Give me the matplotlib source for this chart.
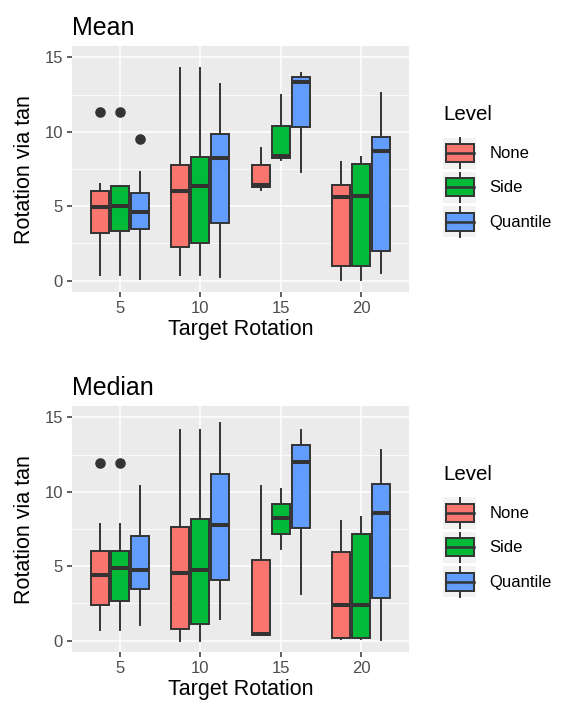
import matplotlib
matplotlib.use('Agg')
import matplotlib.pyplot as plt
from matplotlib.patches import Rectangle
from matplotlib.lines import Line2D
from matplotlib.legend_handler import HandlerBase

plt.rcParams['font.family'] = ['Liberation Sans', 'DejaVu Sans']

# data: (lower whisker, q1, median, q3, upper whisker) per target rotation
targets = [5, 10, 15, 20]
levels = ['None', 'Side', 'Quantile']
colors = ['#F8766D', '#00BA38', '#619CFF']

mean_none = [(0.36, 3.22, 4.93, 6.04, 6.47), (0.41, 2.29, 6.02, 7.75, 14.26),
             (6.07, 6.27, 6.43, 7.75, 8.93), (0.05, 0.99, 5.64, 6.40, 7.95)]
mean_side = [(0.36, 3.36, 5.04, 6.38, 6.38), (0.41, 2.53, 6.36, 8.29, 14.26),
             (8.10, 8.22, 8.37, 10.39, 12.45), (0.05, 0.99, 5.66, 7.82, 8.29)]
mean_quant = [(0.14, 3.47, 4.63, 5.87, 7.32), (0.27, 3.90, 8.22, 9.87, 13.23),
              (7.28, 10.30, 13.32, 13.68, 13.93), (0.52, 1.97, 8.73, 9.63, 12.58)]
mean_out_none = [[11.33], [], [], []]
mean_out_side = [[11.33], [], [], []]
mean_out_quant = [[9.52], [], [], []]

median_none = [(0.72, 2.40, 4.43, 6.04, 7.82), (0.0, 0.76, 4.52, 7.66, 14.13),
               (0.38, 0.38, 0.42, 5.40, 10.41), (0.13, 0.20, 2.42, 5.98, 8.02)]
median_side = [(0.72, 2.64, 4.86, 6.04, 7.82), (0.0, 1.14, 4.75, 8.17, 14.13),
               (6.18, 7.14, 8.22, 9.18, 10.21), (0.13, 0.20, 2.42, 7.19, 8.33)]
median_quant = [(1.03, 3.45, 4.75, 7.05, 10.41), (1.46, 4.10, 7.79, 11.21, 14.60),
                (3.11, 7.59, 12.02, 13.12, 14.17), (0.05, 2.85, 8.56, 10.50, 12.81)]
median_out_none = [[11.91], [], [], []]
median_out_side = [[11.91], [], [], []]
median_out_quant = [[], [], [], []]

W, H = 562, 709
fig = plt.figure(figsize=(W / 100, H / 100), dpi=100)


class BoxKey(HandlerBase):
    # ggplot-style boxplot legend key
    def create_artists(self, legend, orig, xd, yd, width, height, fontsize, trans):
        x0, y0 = -xd, -yd
        bg = Rectangle((x0, y0), width, height, facecolor='#F2F2F2',
                       edgecolor='none', transform=trans)
        cx, cy = x0 + width / 2, y0 + height / 2
        bw, bh = width * 0.85, height * 0.58
        wl = Line2D([cx, cx], [y0 + 0.5, y0 + height - 0.5], color='#333333',
                    lw=1.4, transform=trans)
        box = Rectangle((cx - bw / 2, cy - bh / 2), bw, bh,
                        facecolor=orig.get_facecolor(), edgecolor='#333333',
                        lw=1.4, transform=trans)
        med = Line2D([cx - bw / 2, cx + bw / 2], [cy, cy], color='#333333',
                     lw=1.8, transform=trans)
        return [bg, wl, box, med]


def panel(top, title, groups, outs):
    ax = fig.add_axes([71.7 / W, (H - top - 246.3) / H, 337.6 / W, 246.3 / H])
    ax.set_facecolor('#EBEBEB')
    offs = [-0.25, 0, 0.25]
    for k in range(3):
        stats = []
        for j in range(len(targets)):
            lo, q1, med, q3, hi = groups[k][j]
            stats.append(dict(whislo=lo, q1=q1, med=med, q3=q3, whishi=hi,
                              fliers=outs[k][j]))
        pos = [j + 1 + offs[k] for j in range(len(targets))]
        ax.bxp(stats, positions=pos, widths=0.225, patch_artist=True,
               showcaps=False, manage_ticks=False,
               boxprops=dict(facecolor=colors[k], edgecolor='#333333', lw=1.4),
               whiskerprops=dict(color='#333333', lw=1.4),
               medianprops=dict(color='#333333', lw=2.9, solid_capstyle='butt'),
               flierprops=dict(marker='o', markersize=6.6, markerfacecolor='#333333',
                               markeredgecolor='#333333'),
               zorder=3)
    ax.set_xlim(0.4, 4.6)
    ax.set_ylim(-0.78, 15.76)
    ax.set_xticks(range(1, 5))
    ax.set_xticklabels([str(t) for t in targets])
    ax.set_yticks([0, 5, 10, 15])
    ax.set_yticks([2.5, 7.5, 12.5], minor=True)
    ax.grid(True, which='major', color='white', lw=1.1, zorder=0)
    ax.grid(True, which='minor', axis='y', color='white', lw=0.55, zorder=0)
    ax.set_axisbelow(True)
    for s in ax.spines.values():
        s.set_visible(False)
    ax.tick_params(which='major', length=3.3, width=1.1, color='#333333',
                   labelcolor='#4D4D4D', labelsize=12, pad=3.1)
    ax.tick_params(which='minor', length=0)
    ax.set_xlabel('Target Rotation', fontsize=15.5, labelpad=1.9)
    ax.set_ylabel('Rotation via tan', fontsize=15.5)
    ax.yaxis.set_label_coords(-0.108, 0.5)
    ax.set_title(title, fontsize=18, loc='left', pad=7.7)

    # legend
    fig.text(443.3 / W, (H - top - 74) / H, 'Level', fontsize=14.8,
             ha='left', va='baseline')
    handles = [Rectangle((0, 0), 1, 1, facecolor=c) for c in colors]
    ax.legend(handles, levels, loc='upper left',
              bbox_to_anchor=(443.3 / W, (H - top - 91.5) / H),
              bbox_transform=fig.transFigure, frameon=False,
              fontsize=12, handlelength=1.98, handleheight=2.485,
              labelspacing=0.204, handletextpad=0.8,
              borderpad=0, borderaxespad=0,
              handler_map={Rectangle: BoxKey()})
    return ax


panel(46, 'Mean', [mean_none, mean_side, mean_quant],
      [mean_out_none, mean_out_side, mean_out_quant])
panel(406, 'Median', [median_none, median_side, median_quant],
      [median_out_none, median_out_side, median_out_quant])

fig.savefig('out.png', dpi=100)
